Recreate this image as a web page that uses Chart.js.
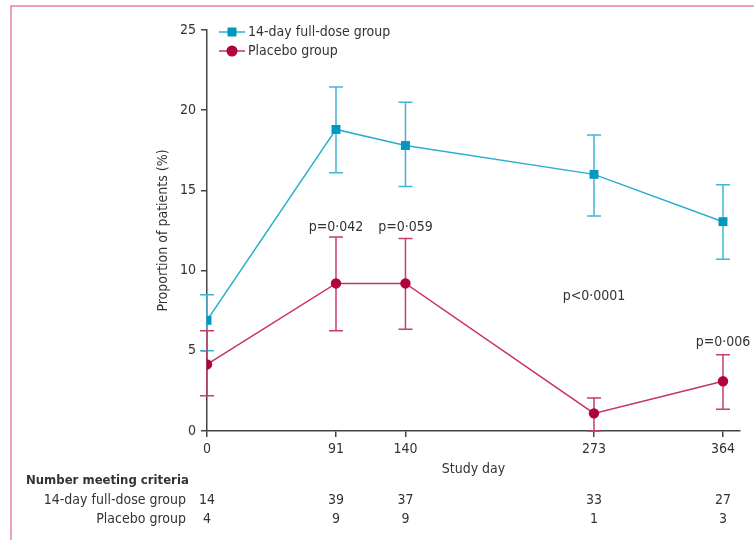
<!DOCTYPE html>
<html>
<head>
<meta charset="utf-8">
<script src="https://cdn.jsdelivr.net/npm/chart.js@4.4.0/dist/chart.umd.min.js"></script>
<style>
  html, body { margin: 0; padding: 0; background: #fff; }
</style>
</head>
<body>
<canvas id="studyChart" width="754" height="540"></canvas>
<script>
const days = [0, 91, 140, 273, 364];
const fullDose = [6.9, 18.8, 17.8, 16.0, 13.05];
const fullDoseLow = [5.0, 16.1, 15.25, 13.4, 10.7];
const fullDoseHigh = [8.5, 21.45, 20.5, 18.45, 15.35];
const placebo = [4.15, 9.2, 9.2, 1.1, 3.1];
const placeboLow = [2.2, 6.25, 6.35, 0, 1.35];
const placeboHigh = [6.25, 12.1, 12.0, 2.05, 4.75];
const countFull = [14, 39, 37, 33, 27];
const countPlacebo = [4, 9, 9, 1, 3];
const pLabels = ['p=0·042', 'p=0·059', 'p<0·0001', 'p=0·006'];
const pDays = [91, 140, 273, 364];
const pValues = [12.7, 12.7, 8.4, 5.55];
const yTicks = [0, 5, 10, 15, 20, 25];

const FONT = "'Liberation Sans Narrow', 'DejaVu Sans Condensed', sans-serif";
const TEXT = '#333';
const CYAN = '#2aaed0', CYAN_MARK = '#0098c0', CYAN_ERR = '#40b6d5';
const RED = '#c8335f', RED_MARK = '#b0023c', RED_ERR = '#c83c66';

Chart.defaults.font.family = FONT;
Chart.defaults.font.size = 14;
Chart.defaults.color = TEXT;

const toPoints = (vals) => vals.map((v, i) => ({ x: days[i], y: v }));

// error bars drawn under the markers
const errorBars = {
    id: 'errorBars',
    beforeDatasetsDraw(chart) {
        const { ctx, scales: { x, y } } = chart;
        const sets = [
            { low: fullDoseLow, high: fullDoseHigh, color: CYAN_ERR },
            { low: placeboLow, high: placeboHigh, color: RED_ERR }
        ];
        ctx.save();
        ctx.lineWidth = 1.5;
        sets.forEach(s => {
            ctx.strokeStyle = s.color;
            days.forEach((d, i) => {
                const px = x.getPixelForValue(d);
                const y1 = y.getPixelForValue(s.low[i]);
                const y2 = y.getPixelForValue(s.high[i]);
                ctx.beginPath();
                ctx.moveTo(px, y1); ctx.lineTo(px, y2);
                ctx.moveTo(px - 7, y1); ctx.lineTo(px + 7, y1);
                ctx.moveTo(px - 7, y2); ctx.lineTo(px + 7, y2);
                ctx.stroke();
            });
        });
        ctx.restore();
    }
};

const extras = {
    id: 'extras',
    afterDraw(chart) {
        const { ctx, scales: { x, y } } = chart;
        ctx.save();

        // pink frame
        ctx.strokeStyle = '#e8819f';
        ctx.lineWidth = 1.5;
        ctx.beginPath();
        ctx.moveTo(754, 6); ctx.lineTo(11, 6); ctx.lineTo(11, 540);
        ctx.stroke();

        // legend
        const legend = [
            { text: '14-day full-dose group', line: CYAN, mark: CYAN_MARK, style: 'rect', y: 32 },
            { text: 'Placebo group', line: RED, mark: RED_MARK, style: 'circle', y: 51 }
        ];
        ctx.font = '14px ' + FONT;
        ctx.textBaseline = 'middle';
        legend.forEach(l => {
            ctx.strokeStyle = l.line;
            ctx.lineWidth = 1.5;
            ctx.beginPath();
            ctx.moveTo(219, l.y); ctx.lineTo(245, l.y);
            ctx.stroke();
            ctx.fillStyle = l.mark;
            if (l.style === 'rect') {
                ctx.fillRect(227.5, l.y - 4.5, 9, 9);
            } else {
                ctx.beginPath();
                ctx.arc(232, l.y, 5.5, 0, Math.PI * 2);
                ctx.fill();
            }
            ctx.fillStyle = TEXT;
            ctx.textAlign = 'left';
            ctx.fillText(l.text, 248, l.y);
        });

        // p-value labels
        ctx.textAlign = 'center';
        pLabels.forEach((t, i) => {
            ctx.fillText(t, x.getPixelForValue(pDays[i]), y.getPixelForValue(pValues[i]));
        });

        // numbers table
        ctx.textAlign = 'left';
        ctx.font = 'bold 13px ' + FONT;
        ctx.fillText('Number meeting criteria', 26, 481);
        ctx.font = '14px ' + FONT;
        ctx.textAlign = 'right';
        ctx.fillText('14-day full-dose group', 186, 500);
        ctx.fillText('Placebo group', 186, 519);
        ctx.textAlign = 'center';
        days.forEach((d, i) => {
            const px = x.getPixelForValue(d);
            ctx.fillText(String(countFull[i]), px, 500);
            ctx.fillText(String(countPlacebo[i]), px, 519);
        });

        ctx.restore();
    }
};

new Chart(document.getElementById('studyChart'), {
    type: 'line',
    data: {
        datasets: [{
            label: '14-day full-dose group',
            data: toPoints(fullDose),
            borderColor: CYAN,
            borderWidth: 1.5,
            pointStyle: 'rect',
            pointRadius: 6.3,
            pointBackgroundColor: CYAN_MARK,
            pointBorderColor: CYAN_MARK,
            pointBorderWidth: 0,
            tension: 0
        }, {
            label: 'Placebo group',
            data: toPoints(placebo),
            borderColor: RED,
            borderWidth: 1.5,
            pointStyle: 'circle',
            pointRadius: 5.2,
            pointBackgroundColor: RED_MARK,
            pointBorderColor: RED_MARK,
            pointBorderWidth: 0,
            tension: 0
        }]
    },
    options: {
        responsive: false,
        animation: false,
        devicePixelRatio: 1,
        layout: { padding: { top: 30, right: 14, bottom: 62, left: 0 } },
        plugins: {
            legend: { display: false },
            tooltip: { enabled: false }
        },
        scales: {
            x: {
                type: 'linear',
                min: 0,
                max: 376,
                afterBuildTicks: (scale) => { scale.ticks = days.map(v => ({ value: v })); },
                afterFit: (scale) => { scale.height = 47; },
                ticks: { color: TEXT, padding: 4, autoSkip: false, font: { size: 14 } },
                grid: { drawOnChartArea: false, drawTicks: true, tickLength: 6, color: '#444', lineWidth: 1.5 },
                border: { display: true, color: '#444', width: 1.5 },
                title: { display: true, text: 'Study day', color: TEXT, padding: { top: 0, bottom: 0 }, font: { size: 14 } }
            },
            y: {
                min: 0,
                max: 25,
                afterBuildTicks: (scale) => { scale.ticks = yTicks.map(v => ({ value: v })); },
                afterFit: (scale) => { scale.width = 207; },
                ticks: { color: TEXT, padding: 5, font: { size: 14 } },
                grid: { drawOnChartArea: false, drawTicks: true, tickLength: 6, color: '#444', lineWidth: 1.5 },
                border: { display: true, color: '#444', width: 1.5 },
                title: { display: true, text: 'Proportion of patients (%)', color: TEXT, padding: { top: 155, bottom: 0 }, font: { size: 14 } }
            }
        }
    },
    plugins: [errorBars, extras]
});
</script>
</body>
</html>
